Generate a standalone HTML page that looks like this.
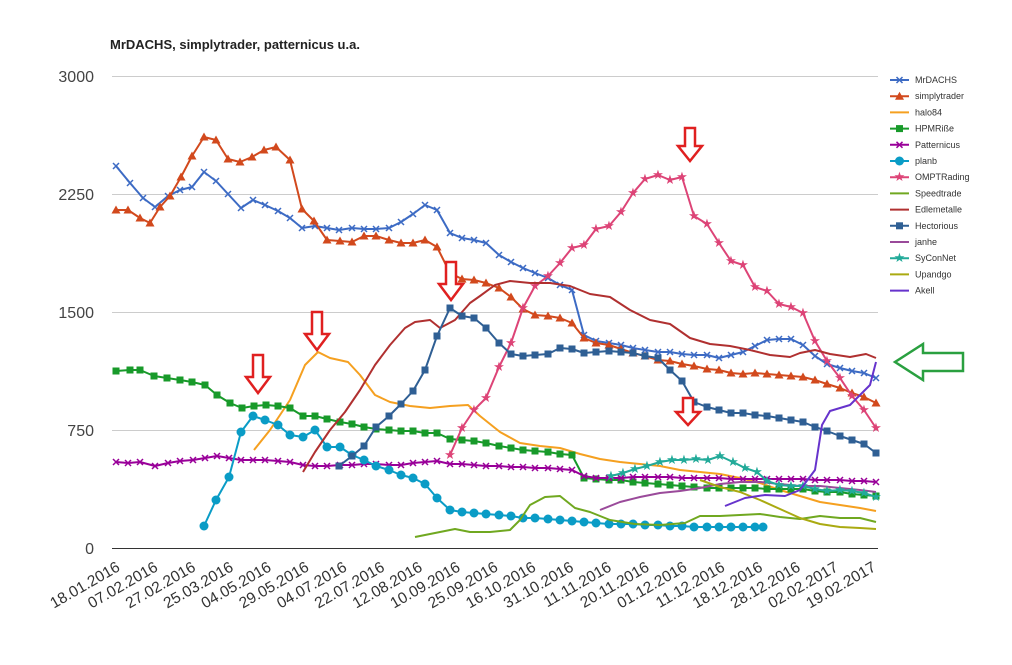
<!DOCTYPE html><html><head><style>body{margin:0;background:#fff}svg{font-family:"Liberation Sans",Arial,sans-serif}</style></head><body>
<svg id="s" width="1012" height="660" xmlns="http://www.w3.org/2000/svg">
<rect width="1012" height="660" fill="#fff"/>
<text x="110" y="49" font-size="13" font-weight="bold" fill="#222">MrDACHS, simplytrader, patternicus u.a.</text>
<g stroke="#ccc" stroke-width="1">
<line x1="112" y1="76.5" x2="878" y2="76.5"/><line x1="112" y1="194.5" x2="878" y2="194.5"/><line x1="112" y1="312.5" x2="878" y2="312.5"/><line x1="112" y1="430.5" x2="878" y2="430.5"/></g>
<line x1="112" y1="548.5" x2="878" y2="548.5" stroke="#333" stroke-width="1"/>
<g font-size="16" fill="#444" text-anchor="end"><text x="94" y="82">3000</text><text x="94" y="200">2250</text><text x="94" y="318">1500</text><text x="94" y="436">750</text><text x="94" y="554">0</text></g>
<g id="xl" font-size="15.5" fill="#333" text-anchor="end"></g>
<g id="lines" fill="none" stroke-width="2" stroke-linejoin="round"></g>
<g id="leg" font-size="9" fill="#333"></g>
<g fill="#fff" stroke="#e02020" stroke-width="2.5">
<path d="M253,355h10v22h7l-12,16l-12,-16h7z"/><path d="M312,312h10v22h7l-12,16l-12,-16h7z"/><path d="M446,262h10v22h7l-12,16l-12,-16h7z"/><path d="M685,128h10v18h7l-12,15l-12,-15h7z"/><path d="M683,398h10v14h7l-12,13l-12,-13h7z"/></g>
<path d="M963,353v18h-40v9l-28,-18l28,-18v9z" fill="#fff" stroke="#2aa040" stroke-width="2.5"/>
</svg>
<script>
const NS="http://www.w3.org/2000/svg";
function el(t,a,p){const e=document.createElementNS(NS,t);for(const k in a)e.setAttribute(k,a[k]);p.appendChild(e);return e}
const labels=["18.01.2016","07.02.2016","27.02.2016","25.03.2016","04.05.2016","29.05.2016","04.07.2016","22.07.2016","12.08.2016","10.09.2016","25.09.2016","16.10.2016","31.10.2016","11.11.2016","20.11.2016","01.12.2016","11.12.2016","18.12.2016","28.12.2016","02.02.2017","19.02.2017"];
const xl=document.getElementById('xl');
labels.forEach((l,i)=>{const x=121+i*37.8,y=570;const t=el('text',{x:x,y:y,transform:`rotate(-30 ${x} ${y})`},xl);t.textContent=l});
function P(s){return s.split(/\),\(/).map(p=>p.replace(/[()]/g,'').split(',').map(Number))}
const S=[
["MrDACHS","#3d6bc4","x","(116,166),(130,183),(143,198),(155,207),(168,196),(180,190),(192,187),(204,172),(216,181),(228,194),(241,208),(253,200),(265,205),(278,211),(290,218),(302,228),(315,226),(327,228),(339,230),(352,228),(364,229),(376,229),(389,228),(401,222),(413,214),(425,205),(437,210),(450,233),(462,238),(474,240),(486,243),(499,255),(511,262),(523,268),(535,273),(548,278),(560,285),(572,290),(584,335),(596,341),(609,343),(621,345),(633,348),(645,350),(658,352),(670,352),(682,354),(694,355),(707,355),(719,358),(731,355),(743,352),(755,346),(767,340),(779,339),(791,339),(803,345),(815,356),(827,364),(840,368),(852,371),(864,373),(876,378)"],
["simplytrader","#d2491d","t","(116,210),(128,210),(140,218),(150,223),(160,207),(170,196),(181,177),(192,156),(204,137),(216,140),(228,159),(240,162),(252,157),(264,150),(276,147),(290,160),(302,209),(314,221),(327,240),(340,241),(352,242),(364,236),(376,236),(389,240),(401,243),(413,243),(425,240),(437,247),(450,273),(462,279),(474,280),(486,283),(499,288),(511,297),(523,309),(535,315),(548,316),(560,318),(572,323),(584,338),(596,343),(609,345),(621,349),(633,353),(645,356),(658,360),(670,361),(682,364),(694,366),(707,369),(719,370),(731,373),(743,374),(755,373),(767,374),(779,375),(791,376),(803,377),(815,380),(827,384),(840,388),(852,393),(864,397),(876,403)"],
["halo84","#f5a020","","(254,450),(270,430),(290,400),(305,365),(318,352),(330,358),(348,362),(360,375),(375,395),(390,402),(410,406),(430,408),(450,406),(468,405),(480,416),(500,432),(520,443),(540,446),(560,448),(580,454),(600,459),(620,462),(640,464),(660,466),(680,470),(700,472),(720,474),(740,478),(760,483),(780,490),(800,496),(820,502),(840,505),(860,508),(876,511)"],
["HPMRiße","#189a2a","s","(116,371),(130,370),(140,370),(154,376),(167,378),(180,380),(192,382),(205,385),(217,395),(230,403),(242,408),(254,406),(266,405),(278,406),(290,408),(303,416),(315,416),(327,419),(340,422),(352,424),(364,427),(376,429),(389,430),(401,431),(413,431),(425,433),(437,433),(450,439),(462,440),(474,441),(486,443),(499,446),(511,448),(523,450),(535,451),(548,452),(560,454),(572,455),(584,478),(596,479),(609,480),(621,480),(633,482),(645,483),(658,484),(670,485),(682,486),(694,487),(707,488),(719,488),(731,488),(743,488),(755,488),(767,489),(779,489),(791,489),(803,489),(815,491),(827,492),(840,492),(852,494),(864,495),(876,496)"],
["Patternicus","#990099","x","(116,462),(128,463),(140,462),(155,466),(168,463),(180,461),(193,460),(205,458),(217,456),(229,458),(241,460),(253,460),(265,460),(278,461),(290,462),(303,465),(315,466),(327,466),(340,465),(352,465),(364,464),(376,464),(389,465),(401,465),(413,463),(425,462),(437,461),(450,464),(462,464),(474,465),(486,466),(499,466),(511,467),(523,467),(535,468),(548,468),(560,469),(572,470),(584,476),(596,478),(609,478),(621,478),(633,477),(645,477),(658,477),(670,477),(682,478),(694,478),(707,478),(719,478),(731,479),(743,479),(755,479),(767,479),(779,479),(791,479),(803,479),(815,480),(827,480),(840,480),(852,481),(864,481),(876,482)"],
["planb","#0a9cc6","c","(204,526),(216,500),(229,477),(241,432),(253,416),(265,420),(278,425),(290,435),(303,437),(315,430),(327,447),(340,447),(352,455),(364,460),(376,466),(389,470),(401,475),(413,478),(425,484),(437,498),(450,510),(462,512),(474,513),(486,514),(499,515),(511,516),(523,518),(535,518),(548,519),(560,520),(572,521),(584,522),(596,523),(609,524),(621,524),(633,524),(645,525),(658,525),(670,526),(682,526),(694,527),(707,527),(719,527),(731,527),(743,527),(755,527),(763,527)"],
["OMPTRading","#dd4477","*","(450,455),(462,428),(474,410),(486,398),(499,367),(511,343),(523,308),(535,286),(548,276),(560,263),(572,248),(584,245),(596,229),(609,226),(621,212),(633,193),(645,179),(658,175),(670,180),(682,177),(694,216),(707,224),(719,243),(731,261),(743,265),(755,287),(767,291),(779,304),(791,307),(803,313),(815,341),(827,361),(840,378),(852,396),(864,410),(876,428)"],
["Speedtrade","#70a820","","(415,537),(430,534),(440,532),(455,529),(470,532),(490,532),(510,530),(520,520),(530,505),(545,497),(560,496),(575,508),(590,512),(610,520),(635,524),(660,525),(685,523),(700,516),(720,516),(740,515),(760,514),(780,517),(800,519),(820,516),(840,518),(860,518),(876,522)"],
["Edlemetalle","#b03030","","(303,472),(315,452),(330,430),(345,412),(360,390),(375,365),(390,345),(405,328),(415,322),(430,320),(440,328),(455,320),(470,303),(480,296),(495,285),(510,281),(530,283),(550,283),(570,286),(590,294),(610,297),(630,310),(650,320),(670,324),(690,338),(710,344),(730,346),(750,350),(770,355),(790,357),(800,353),(815,350),(830,354),(850,357),(866,354),(876,358)"],
["Hectorious","#2f5f94","s","(339,466),(352,456),(364,446),(376,427),(389,416),(401,404),(413,391),(425,370),(437,336),(450,308),(462,316),(474,318),(486,328),(499,343),(511,354),(523,356),(535,355),(548,354),(560,348),(572,349),(584,353),(596,352),(609,351),(621,352),(633,353),(645,356),(658,358),(670,370),(682,381),(694,402),(707,407),(719,410),(731,413),(743,413),(755,415),(767,416),(779,418),(791,420),(803,422),(815,427),(827,431),(840,436),(852,440),(864,444),(876,453)"],
["janhe","#9a4a9a","","(600,510),(620,502),(640,497),(660,493),(680,491),(700,488),(720,484),(740,482),(760,482),(780,484),(800,486),(820,486),(840,488),(860,490),(876,492)"],
["SyConNet","#22aa99","*","(611,476),(623,473),(635,469),(647,466),(660,462),(672,460),(684,460),(696,459),(708,460),(720,456),(733,462),(745,468),(757,472),(767,481),(779,485),(791,486),(803,486),(815,489),(827,491),(840,490),(852,491),(864,493),(876,497)"],
["Upandgo","#aaaa11","","(700,480),(720,487),(740,492),(760,500),(780,509),(800,518),(820,524),(840,527),(860,528),(876,529)"],
["Akell","#6633cc","","(725,506),(745,498),(765,495),(785,496),(800,490),(815,470),(822,425),(830,411),(840,408),(850,405),(860,395),(870,385),(876,362)"]];
const g=document.getElementById('lines'),lg=document.getElementById('leg');
function mk(m,x,y,c,p){if(m=="s")el('rect',{x:x-3.5,y:y-3.5,width:7,height:7,fill:c,stroke:'none'},p);
else if(m=="c")el('circle',{cx:x,cy:y,r:4.5,fill:c,stroke:'none'},p);
else if(m=="t")el('path',{d:`M${x},${y-4.5}l4.5,8h-9z`,fill:c,stroke:'none'},p);
else if(m=="x")el('path',{d:`M${x-3},${y-3}l6,6M${x+3},${y-3}l-6,6`,stroke:c,'stroke-width':1.5},p);
else if(m=="*")el('text',{x:x,y:y+4,'font-size':13,'text-anchor':'middle',fill:c,stroke:'none'},p).textContent="★";}
S.forEach((s,i)=>{const pts=P(s[3]);el('polyline',{points:pts.map(p=>p.join(',')).join(' '),stroke:s[1]},g);
if(s[2])pts.forEach(p=>mk(s[2],p[0],p[1],s[1],g));
const y=80+i*16.2;el('line',{x1:890,y1:y,x2:909,y2:y,stroke:s[1],'stroke-width':2},lg);if(s[2])mk(s[2],899.5,y,s[1],lg);
el('text',{x:915,y:y+3},lg).textContent=s[0];});
</script>
</body></html>
